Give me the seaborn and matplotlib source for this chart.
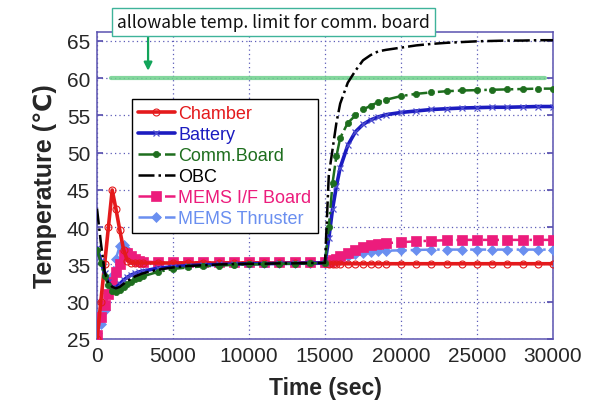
import matplotlib
matplotlib.use("Agg")
import matplotlib.pyplot as plt
import seaborn as sns
import pandas as pd

# ---------------- data ----------------
time_s = [0, 250, 500, 750, 1000, 1250, 1500, 1750, 2000, 2250, 2500, 2750, 3000,
          4000, 5000, 6000, 7000, 8000, 9000, 10000, 11000, 12000, 13000, 14000, 15000,
          15250, 15500, 15750, 16000, 16500, 17000, 17500, 18000, 18500, 19000,
          20000, 21000, 22000, 23000, 24000, 25000, 26000, 27000, 28000, 29000, 30000]

chamber = [25.0, 30.0, 35.0, 40.0, 45.0, 42.4, 39.6, 37.0, 35.5, 35.2, 35.2, 35.2, 35.2,
           35.2, 35.2, 35.2, 35.2, 35.2, 35.2, 35.2, 35.2, 35.2, 35.2, 35.2, 35.2,
           35.1, 35.1, 35.1, 35.1, 35.1, 35.1, 35.1, 35.1, 35.1, 35.1,
           35.1, 35.1, 35.1, 35.1, 35.1, 35.1, 35.1, 35.1, 35.1, 35.1, 35.1]

battery = [37.2, 35.5, 33.8, 32.6, 31.9, 31.9, 32.4, 32.9, 33.3, 33.6, 33.8, 34.0, 34.1,
           34.5, 34.7, 34.85, 34.95, 35.0, 35.05, 35.1, 35.1, 35.15, 35.15, 35.2, 35.2,
           38.5, 42.5, 45.5, 48.0, 51.0, 52.8, 53.8, 54.4, 54.8, 55.1,
           55.4, 55.6, 55.8, 55.9, 56.0, 56.05, 56.1, 56.1, 56.15, 56.2, 56.2]

comm_board = [37.0, 35.2, 33.5, 32.2, 31.5, 31.3, 31.6, 32.0, 32.4, 32.7, 33.0, 33.2, 33.4,
              34.0, 34.4, 34.6, 34.75, 34.85, 34.95, 35.0, 35.05, 35.1, 35.1, 35.15, 35.2,
              40.0, 46.0, 49.5, 52.0, 54.0, 55.0, 55.8, 56.3, 56.8, 57.1,
              57.6, 57.9, 58.1, 58.25, 58.35, 58.4, 58.45, 58.5, 58.55, 58.6, 58.6]

obc = [42.5, 38.0, 34.0, 32.5, 32.0, 31.8, 32.0, 32.4, 32.8, 33.1, 33.4, 33.6, 33.8,
       34.3, 34.6, 34.8, 34.9, 35.0, 35.05, 35.1, 35.1, 35.15, 35.15, 35.2, 35.2,
       47.0, 50.5, 54.0, 56.6, 59.4, 61.0, 62.4, 63.1, 63.6, 63.8,
       64.1, 64.4, 64.6, 64.75, 64.85, 64.95, 65.0, 65.05, 65.05, 65.1, 65.1]

mems_if = [25.5, 27.9, 29.5, 31.1, 32.6, 34.0, 35.1, 36.3, 36.5, 36.1, 35.7, 35.5, 35.4,
           35.3, 35.3, 35.3, 35.3, 35.3, 35.3, 35.3, 35.3, 35.3, 35.3, 35.3, 35.3,
           35.4, 35.6, 35.8, 36.1, 36.6, 36.9, 37.3, 37.55, 37.7, 37.85,
           38.0, 38.1, 38.2, 38.25, 38.3, 38.3, 38.3, 38.3, 38.3, 38.3, 38.3]

mems_thruster = [25.8, 27.0, 28.9, 31.2, 33.5, 35.8, 37.5, 37.6, 37.0, 36.0, 35.6, 35.3, 35.2,
                 35.2, 35.2, 35.2, 35.2, 35.2, 35.2, 35.2, 35.2, 35.2, 35.2, 35.25, 35.25,
                 35.3, 35.45, 35.6, 35.8, 36.1, 36.35, 36.55, 36.7, 36.8, 36.85,
                 36.9, 36.95, 37.0, 37.0, 37.0, 37.0, 37.0, 37.0, 37.0, 37.0, 37.0]

limit_time = [900, 29500]
limit_temp = [60, 60]

series_names = ["Chamber", "Battery", "Comm.Board", "OBC", "MEMS I/F Board", "MEMS Thruster"]
x_ticks = [0, 5000, 10000, 15000, 20000, 25000, 30000]
y_ticks = [25, 30, 35, 40, 45, 50, 55, 60, 65]

# ---------------- styling ----------------
sns.set_theme(style="white")
plt.rcParams["font.family"] = ["Liberation Sans", "DejaVu Sans"]

frame_col = "#5a52b0"
grid_col = "#5c5cb8"

fig = plt.figure(figsize=(5.92, 4.06), dpi=100)
ax = fig.add_axes([97 / 592, 1 - 340 / 406, 456 / 592, 307 / 406])

df = pd.DataFrame({"t": time_s, "Chamber": chamber, "Battery": battery,
                   "Comm.Board": comm_board, "OBC": obc,
                   "MEMS I/F Board": mems_if, "MEMS Thruster": mems_thruster})

styles = {
    "Chamber": dict(color="#e41a1c", linestyle="-", linewidth=2.6, marker="o",
                    markersize=5, markerfacecolor="none", markeredgecolor="#e41a1c",
                    markeredgewidth=0.8),
    "Battery": dict(color="#1c1cc0", linestyle="-", linewidth=2.6, marker="x",
                    markersize=5, markeredgewidth=0.9, markeredgecolor="#5050d0"),
    "Comm.Board": dict(color="#1e6e1e", linestyle="-.", linewidth=1.8, marker="o",
                       markersize=4.5, markeredgecolor="#1e6e1e", markeredgewidth=0.5),
    "OBC": dict(color="black", linestyle="-.", linewidth=1.8),
    "MEMS I/F Board": dict(color="#ec1c7c", linestyle="-.", linewidth=1.8, marker="s",
                           markersize=7, markeredgecolor="#ec1c7c", markeredgewidth=0.5),
    "MEMS Thruster": dict(color="#6a8ff0", linestyle="-.", linewidth=1.8, marker="D",
                          markersize=5, markeredgecolor="#6a8ff0", markeredgewidth=0.5),
}

# allowable limit line
sns.lineplot(x=limit_time, y=limit_temp, ax=ax, color="#6fd08c", linewidth=3,
             alpha=0.85, zorder=2)

for name in ["MEMS Thruster", "MEMS I/F Board", "Chamber", "Battery", "Comm.Board", "OBC"]:
    sns.lineplot(data=df, x="t", y=name, ax=ax, label=name, zorder=3,
                 **styles[name])

ax.set_xlim(0, 30000)
ax.set_ylim(25, 66.2)
ax.set_xticks(x_ticks)
ax.set_yticks(y_ticks)
ax.set_xticklabels([str(v) for v in x_ticks])
ax.set_yticklabels([str(v) for v in y_ticks])
ax.tick_params(axis="both", labelsize=15, direction="in", length=4, color=frame_col,
               right=True, left=True, bottom=False, pad=5)
ax.grid(True, linestyle=(0, (1, 2.5)), color=grid_col, linewidth=0.9)
for sp in ax.spines.values():
    sp.set_color(frame_col)
    sp.set_linewidth(1.1)

ax.set_xlabel("Time (sec)", fontsize=16.5, fontweight="bold", labelpad=8)
ax.set_ylabel("Temperature (℃)", fontsize=18, fontweight="bold", labelpad=7)

# legend in the reference order
handles, labels = ax.get_legend_handles_labels()
order = [labels.index(n) for n in series_names]
leg = ax.legend([handles[i] for i in order], [labels[i] for i in order],
                loc="upper left", bbox_to_anchor=(0.077, 0.782), borderaxespad=0,
                fontsize=13, frameon=True, fancybox=False, framealpha=1,
                edgecolor="black", handlelength=2.0, handletextpad=0.2,
                labelspacing=0.22, borderpad=0.35)
leg.get_frame().set_linewidth(1.0)
for txt, n in zip(leg.get_texts(), series_names):
    txt.set_color(styles[n]["color"])
leg.set_zorder(10)

# annotation box and arrow
fig.text(117 / 592, 1 - 23 / 406, "allowable temp. limit for comm. board",
         fontsize=12.6, family=["Noto Sans CJK KR", "DejaVu Sans"], va="center", ha="left",
         color="#111111", zorder=20,
         bbox=dict(boxstyle="square,pad=0.28", facecolor="white", edgecolor="#3fb39a",
                   linewidth=1.0))
ax.annotate("", xy=(3360, 61.0), xytext=(3360, 65.9), xycoords="data",
            arrowprops=dict(arrowstyle="-|>", color="#12a45a", lw=1.6,
                            mutation_scale=12, shrinkA=0, shrinkB=0),
            annotation_clip=False, zorder=21)

fig.savefig("out.png", dpi=100)
